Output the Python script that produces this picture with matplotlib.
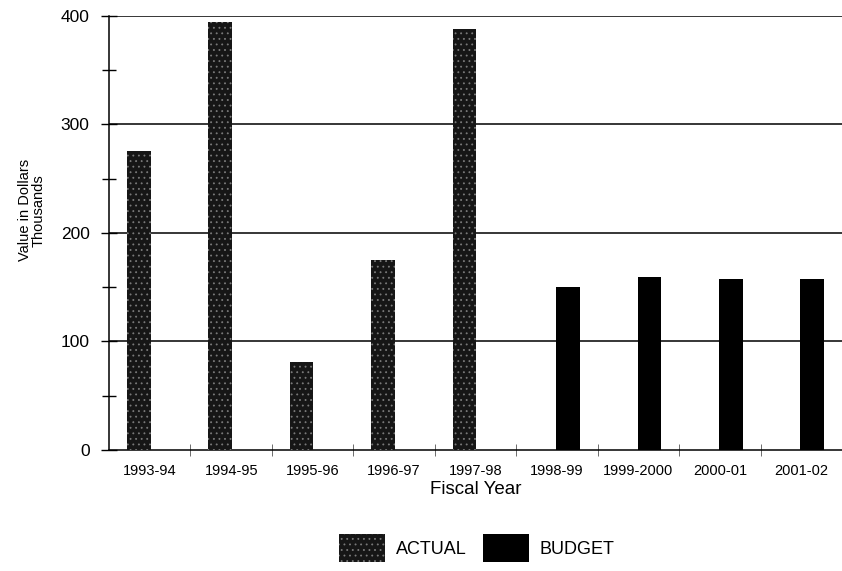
import numpy as np
import matplotlib.pyplot as plt
from matplotlib.ticker import MultipleLocator

plt.rcParams['font.family'] = ['Liberation Sans', 'DejaVu Sans']
plt.rcParams['hatch.linewidth'] = 0.6

# Fiscal years and values (thousands of dollars)
years = ['1993-94', '1994-95', '1995-96', '1996-97', '1997-98',
         '1998-99', '1999-2000', '2000-01', '2001-02']
actual = [276, 394, 81, 175, 388, 0, 0, 0, 0]
budget = [0, 0, 0, 0, 0, 150, 159, 158, 158]

x = np.arange(len(years))
width = 0.29
offset = 0.135

fig = plt.figure(figsize=(8.42, 5.71), dpi=100)
ax = fig.add_axes([0.1295, 0.212, 0.8705, 0.76])

ax.bar(x - offset, actual, width, color='#161616', edgecolor='#7a7a7a',
       hatch='...', linewidth=0, label='ACTUAL', zorder=3)
ax.bar(x + offset, budget, width, color='black', linewidth=0,
       label='BUDGET', zorder=3)

ax.set_xlim(-0.5, len(years) - 0.5)
ax.set_ylim(0, 400)

# gridlines
for v in [100, 200, 300, 400]:
    ax.axhline(v, color='black', linewidth=1.1, zorder=1)

ax.spines['top'].set_visible(False)
ax.spines['right'].set_visible(False)
ax.spines['left'].set_linewidth(1.1)
ax.spines['bottom'].set_linewidth(1.1)

ax.yaxis.set_major_locator(MultipleLocator(100))
ax.yaxis.set_minor_locator(MultipleLocator(50))
ax.tick_params(axis='y', which='both', direction='inout', length=12,
               width=1.0, labelsize=12.5, pad=8)
ax.tick_params(axis='y', which='minor', length=10)

ax.set_xticks(x)
ax.set_xticklabels(years, fontsize=10.5)
ax.tick_params(axis='x', which='major', length=0, pad=10)
ax.set_xticks(np.arange(len(years)) + 0.5, minor=True)
ax.tick_params(axis='x', which='minor', direction='inout', length=8,
               width=0.6, color='#555555')

ax.set_xlabel('Fiscal Year', fontsize=13.5, labelpad=2)
fig.text(32 / 842, 0.632, 'Value in Dollars\nThousands', rotation=90,
         ha='center', va='center', fontsize=10.5, linespacing=1.0)

fig.legend(loc='center', bbox_to_anchor=(0.566, 0.04), ncol=2,
           frameon=False, fontsize=13, handlelength=2.55, handleheight=2.05,
           handletextpad=0.6, columnspacing=0.9)

fig.savefig('out.png', dpi=100)
